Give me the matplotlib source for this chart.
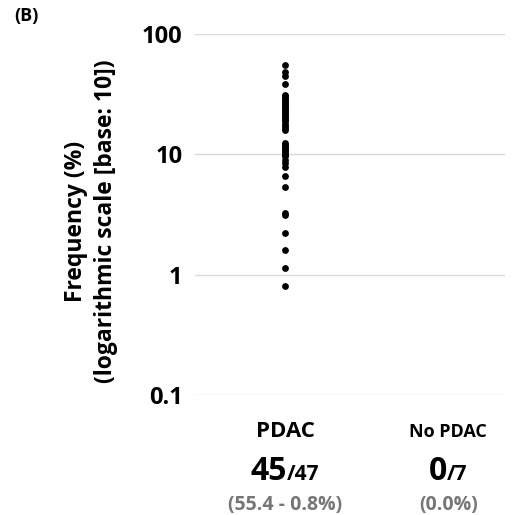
import numpy as np
import matplotlib
matplotlib.use("Agg")
import matplotlib.pyplot as plt
import matplotlib.transforms as mtransforms

plt.rcParams['font.family'] = ['Open Sans', 'DejaVu Sans']

groups = ["PDAC", "No PDAC"]
detected = [45, 0]
totals = [47, 7]
ranges = ["(55.4 - 0.8%)", "(0.0%)"]
pdac_freq = [55.4, 48, 45, 38.5, 31.4, 30.5, 29.4, 28.5, 27.6, 26.8, 25.9, 25.0,
             24.3, 23.5, 22.8, 22.0, 21.4, 20.7, 20.0, 19.4, 18.8, 18.0, 17.3, 16.6,
             16.0, 12.4, 12.0, 11.7, 11.3, 10.9, 10.6, 10.3, 9.9, 9.6, 9.0, 8.5, 7.9,
             6.65, 5.36, 3.26, 3.11, 2.22, 1.59, 1.14, 0.8]
yticks = [0.1, 1, 10, 100]
ytick_labels = ["0.1", "1", "10", "100"]

fig = plt.figure(figsize=(5.15, 5.15), dpi=100)
ax = fig.add_axes([0.379, 0.233, 0.602, 0.701])

ax.scatter(np.zeros(len(pdac_freq)), pdac_freq, s=24, color="black", zorder=3, linewidths=0)

ax.set_yscale("log")
ax.set_ylim(0.1, 100)
ax.set_xlim(-0.551, 1.35)
ax.set_yticks(yticks)
ax.set_yticklabels(ytick_labels, fontsize=17, fontweight="bold")
ax.minorticks_off()
ax.set_xticks([])
ax.tick_params(axis="y", length=0, pad=9)
ax.grid(axis="y", color="#d9d9d9", linewidth=1)
ax.set_axisbelow(True)
for s in ax.spines.values():
    s.set_visible(False)

fig.text(91 / 515, 1 - 221 / 515, "Frequency (%)\n(logarithmic scale [base: 10])",
         rotation=90, ha="center", va="center", multialignment="center",
         fontsize=16.5, fontweight="bold", linespacing=1.3)

trans = ax.get_xaxis_transform()
name_sizes = [16, 13]
for i, g in enumerate(groups):
    ax.text(i, -0.102, g, transform=trans, ha="center", va="center",
            fontsize=name_sizes[i], fontweight="bold")
    ax.text(i, -0.305, ranges[i], transform=trans, ha="center", va="center",
            fontsize=14, fontweight="bold", color="#767676")

fig.canvas.draw()
renderer = fig.canvas.get_renderer()
for i in range(len(groups)):
    t1 = ax.text(i, -0.202, str(detected[i]), transform=trans, ha="right", va="baseline",
                 fontsize=23, fontweight="bold")
    t2 = ax.text(i, -0.202, "/" + str(totals[i]), transform=trans, ha="left", va="baseline",
                 fontsize=15, fontweight="bold")
    w1 = t1.get_window_extent(renderer).width
    w2 = t2.get_window_extent(renderer).width
    shift = (w1 - w2) / 2.0
    off = mtransforms.offset_copy(trans, fig=fig, x=shift * 72 / fig.dpi, y=-9, units="points")
    t1.set_transform(off)
    t2.set_transform(off)

fig.text(0.027, 0.968, "(B)", fontsize=13, fontweight="bold", ha="left", va="center")

fig.savefig("out.png", dpi=100)
